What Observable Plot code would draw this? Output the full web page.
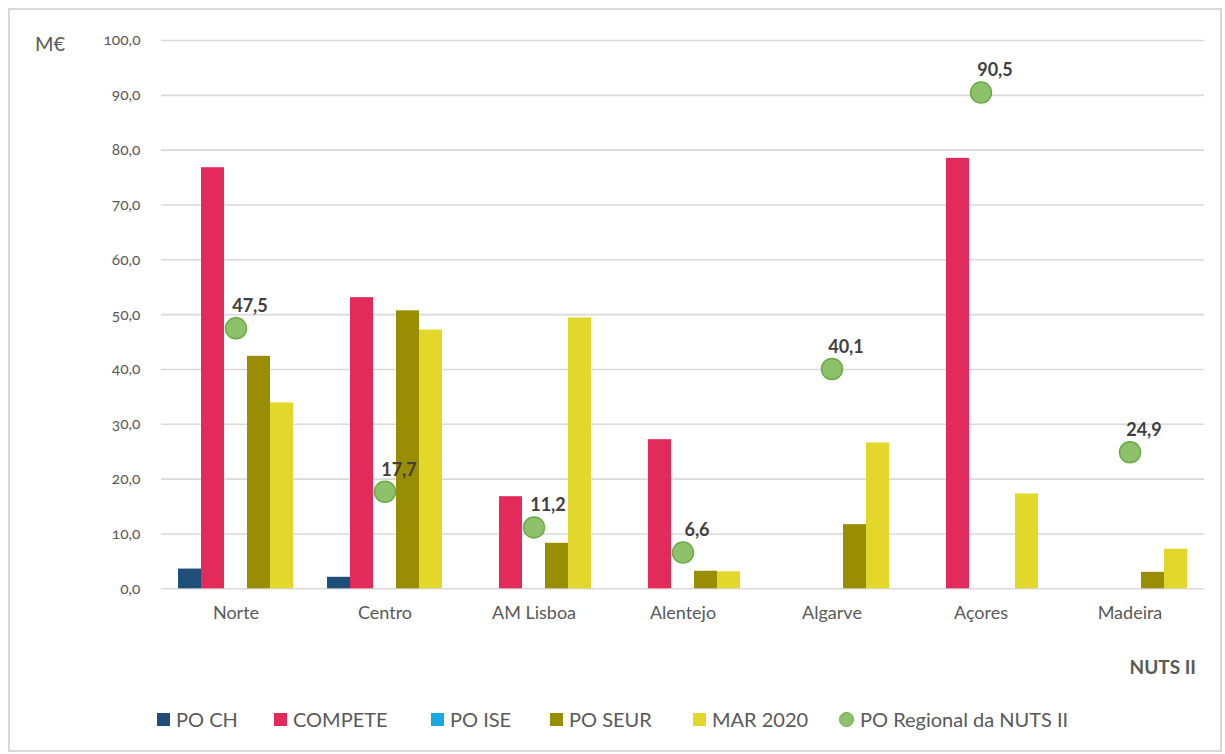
<!DOCTYPE html>
<html><head><meta charset="utf-8">
<script src="https://cdn.jsdelivr.net/npm/d3@7"></script>
<script src="https://cdn.jsdelivr.net/npm/@observablehq/plot@0.6"></script>
<style>
body{margin:0;background:#fff;font-family:Lato,"Open Sans",sans-serif;}
#frame{position:absolute;left:8px;top:8px;width:1210px;height:740px;border:2px solid #d9d9d9;}
#chart{position:absolute;left:0;top:0;}
#unit{position:absolute;left:35px;top:31px;font-size:20px;color:#595959;}
#nuts{position:absolute;right:29px;top:655px;font-size:19px;font-weight:bold;color:#595959;}
#legend{position:absolute;left:0;top:707px;width:1225px;height:28px;font-size:20px;color:#595959;}
#legend span.item{position:absolute;top:0;display:flex;align-items:center;gap:6px;white-space:nowrap;}
#legend i{display:inline-block;width:13px;height:13px;}
#legend i.dot{border-radius:50%;width:15px;height:15px;box-sizing:border-box;border:1.5px solid #6aab45;}
</style></head>
<body>
<div id="frame"></div>
<div id="chart"></div>
<div id="unit">M€</div>
<div id="nuts">NUTS II</div>
<div id="legend"></div>
<script>
const regions = ["Norte","Centro","AM Lisboa","Alentejo","Algarve","Açores","Madeira"];
const series = ["PO CH","COMPETE","PO ISE","PO SEUR","MAR 2020"];
const poCH    = [3.6, 2.1, 0, 0, 0, 0, 0];
const compete = [76.8, 53.1, 16.8, 27.2, 0, 78.5, 0];
const poISE   = [0, 0, 0, 0, 0, 0, 0];
const poSEUR  = [42.4, 50.7, 8.3, 3.2, 11.7, 0, 3.0];
const mar2020 = [33.9, 47.2, 49.4, 3.1, 26.6, 17.3, 7.2];
const poRegional = [47.5, 17.7, 11.2, 6.6, 40.1, 90.5, 24.9];
const regionalName = "PO Regional da NUTS II";
const yTicks = [0,10,20,30,40,50,60,70,80,90,100];
const colors = ["#1f4e79","#e22b5a","#17a9e1","#998e03","#e2d72a"];
const dotFill = "#8dc26a", dotStroke = "#6aab45";

const seriesValues = [poCH, compete, poISE, poSEUR, mar2020];
const bars = [];
regions.forEach((r,i)=>series.forEach((s,j)=>{ if (seriesValues[j][i] > 0) bars.push({region:r, series:s, value:seriesValues[j][i]}); }));
const dots = regions.map((r,i)=>({region:r, series:"PO ISE", value:poRegional[i]}));
const fmt = d => d.toFixed(1).replace(".", ",");

const plot = Plot.plot({
  width: 1225, height: 640,
  marginLeft: 161, marginRight: 21, marginTop: 40, marginBottom: 51.7,
  style:{fontFamily:"Lato, 'Open Sans', sans-serif", background:"transparent"},
  fx:{domain:regions, padding:0, round:false, label:null, axis:"bottom", tickSize:0, tickPadding:17},
  x:{domain:series, paddingInner:0, paddingOuter:0.74, round:false, axis:null},
  y:{domain:[0,100], ticks:yTicks, tickFormat:fmt, label:null, tickSize:0, tickPadding:21},
  color:{domain:series, range:colors},
  marks:[
    Plot.ruleY(yTicks, {stroke:"#d9d9d9", strokeWidth:1.6}),
    Plot.barY(bars, {fx:"region", x:"series", y:"value", fill:"series", inset:0}),
    Plot.dot(dots, {fx:"region", x:"series", y:"value", r:10.5, fill:dotFill, stroke:dotStroke, strokeWidth:1.5}),
    Plot.text(dots, {fx:"region", x:"series", y:"value", text:d=>fmt(d.value), dx:14, dy:-22, fontWeight:"bold", fontSize:18, fill:"#404040"})
  ]
});
document.getElementById("chart").appendChild(plot);
plot.querySelectorAll("g[aria-label='y-axis tick label'] text").forEach(t=>{t.style.fontSize="15.5px";t.style.fill="#595959";t.style.fontVariantNumeric="oldstyle-nums";});
plot.querySelectorAll("g[aria-label='fx-axis tick label'] text").forEach(t=>{t.style.fontSize="18px";t.style.fill="#595959";});

const leg = document.getElementById("legend");
const legX = [157, 274, 431, 550, 693, 839];
series.forEach((s,j)=>{
  const it=document.createElement("span"); it.className="item"; it.style.left=legX[j]+"px";
  it.innerHTML=`<i style="background:${colors[j]}"></i>${s}`; leg.appendChild(it);
});
const it=document.createElement("span"); it.className="item"; it.style.left=legX[5]+"px";
it.innerHTML=`<i class="dot" style="background:${dotFill}"></i>${regionalName}`; leg.appendChild(it);
</script>
</body></html>
